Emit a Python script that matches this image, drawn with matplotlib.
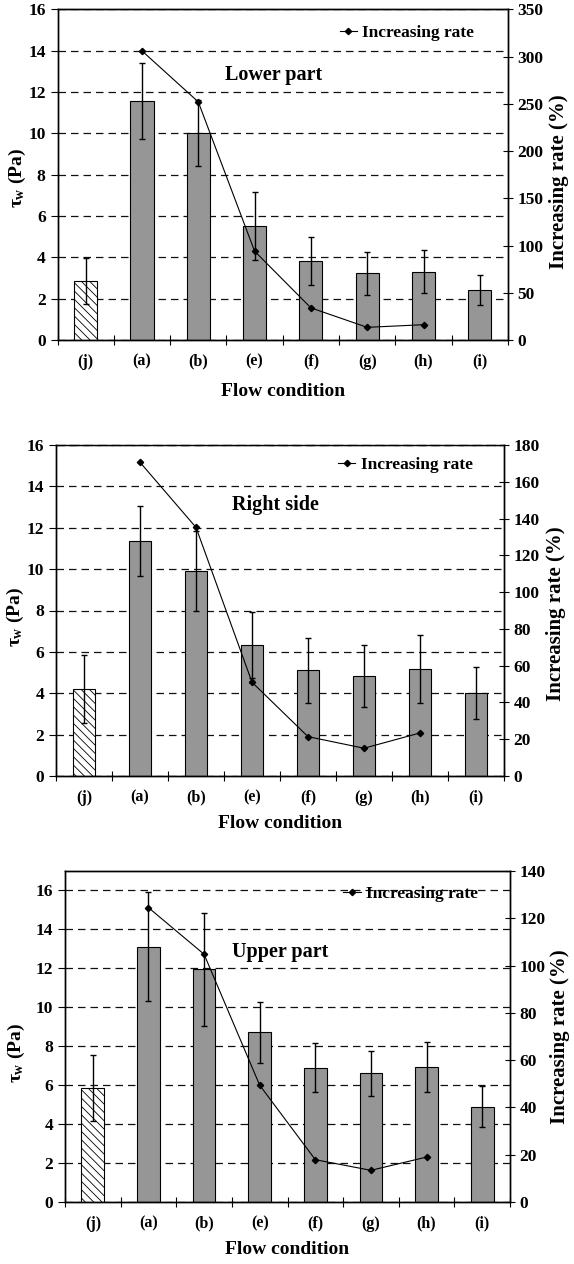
import matplotlib
matplotlib.use("Agg")
import matplotlib.pyplot as plt
import numpy as np
from matplotlib.lines import Line2D

plt.rcParams['font.family'] = ['Liberation Serif', 'DejaVu Serif']
plt.rcParams['font.weight'] = 'bold'
plt.rcParams['mathtext.fontset'] = 'custom'
plt.rcParams['mathtext.rm'] = 'Liberation Serif:bold'
plt.rcParams['mathtext.it'] = 'Liberation Serif'
plt.rcParams['hatch.linewidth'] = 0.6

# flow conditions (x axis)
conditions = ['(j)', '(a)', '(b)', '(e)', '(f)', '(g)', '(h)', '(i)']
rate_conditions = ['(a)', '(b)', '(e)', '(f)', '(g)', '(h)']

# lower part
lower_tau = [2.85, 11.56, 10.03, 5.53, 3.82, 3.24, 3.31, 2.42]
lower_err = [1.10, 1.83, 1.60, 1.64, 1.16, 1.04, 1.05, 0.71]
lower_rate = [306, 252, 94, 34, 13.4, 16.2]

# right side
right_tau = [4.19, 11.35, 9.89, 6.34, 5.10, 4.82, 5.18, 4.00]
right_err = [1.65, 1.68, 1.93, 1.60, 1.55, 1.50, 1.65, 1.26]
right_rate = [170.6, 135.2, 51, 21.4, 15.1, 23.4]

# upper part
upper_tau = [5.84, 13.12, 11.95, 8.72, 6.90, 6.61, 6.93, 4.89]
upper_err = [1.69, 2.80, 2.90, 1.56, 1.25, 1.16, 1.30, 1.05]
upper_rate = [124.5, 104.8, 49.4, 17.9, 13.4, 19.0]

W, H = 574, 1264
fig = plt.figure(figsize=(W / 100, H / 100), dpi=100)


def px_rect(left, right, top, bottom):
    return [left / W, 1 - bottom / H, (right - left) / W, (bottom - top) / H]


def draw_panel(rect, tau, err, rate, title, ytop, rmax, rstep, title_xy, leg_xy,
               ylab_xy, rlab_xy, xlab_y, dashed_top=False):
    ax = fig.add_axes(rect)
    x = np.arange(len(conditions))
    colors = ['white'] + ['#969696'] * (len(conditions) - 1)
    bars = ax.bar(x, tau, width=0.41, color=colors, edgecolor='black',
                  linewidth=0.8, zorder=2)
    bars[0].set_hatch('\\\\\\\\')
    ax.errorbar(x, tau, yerr=err, fmt='none', ecolor='black', elinewidth=1.0,
                capsize=2.5, capthick=1.0, zorder=3)
    ax.set_xlim(-0.5, len(conditions) - 0.5)
    ax.set_ylim(0, ytop)
    ax.set_yticks(np.arange(0, 17, 2))
    ax.set_xticks(x)
    ax.set_xticklabels(conditions, fontsize=11.5, fontweight='bold')
    ax.set_xticks(np.arange(-0.5, len(conditions)), minor=True)
    ax.tick_params(axis='x', which='major', length=0, pad=10)
    ax.tick_params(axis='x', which='minor', direction='inout', length=7, width=0.8)
    ax.tick_params(axis='y', direction='out', length=5, width=0.8, labelsize=12.5)
    for lab in ax.get_yticklabels():
        lab.set_fontweight('bold')
    ax.set_axisbelow(True)
    ax.yaxis.grid(True, color='#111111', linewidth=0.9, linestyle=(0, (6, 4)))
    for s in ax.spines.values():
        s.set_linewidth(1.0)
    if dashed_top:
        ax.spines['top'].set_linestyle((0, (6, 4)))
        ax.spines['top'].set_color('#444444')

    ax2 = ax.twinx()
    ax2.plot(x[1:7], rate, color='black', linewidth=0.8, marker='D', markersize=3.2)
    ax2.set_ylim(0, rmax)
    ax2.set_yticks(np.arange(0, rmax + 1, rstep))
    ax2.tick_params(axis='y', direction='inout', length=7, width=0.8, labelsize=12.5)
    for lab in ax2.get_yticklabels():
        lab.set_fontweight('bold')
    for s in ax2.spines.values():
        s.set_linewidth(1.0)

    ax.text(title_xy[0], title_xy[1], title, transform=ax.transAxes, ha='center',
            va='center', fontsize=14.5, fontweight='bold')
    handle = Line2D([], [], color='black', linewidth=0.8, marker='D', markersize=3.2)
    ax2.legend([handle], ['Increasing rate'], loc='center right',
               bbox_to_anchor=leg_xy, frameon=False, handlelength=1.0,
               handletextpad=0.3, borderpad=0, borderaxespad=0,
               prop={'size': 12.5, 'weight': 'bold'})
    ax.text(ylab_xy[0], ylab_xy[1], r'$\tau_\mathregular{w}$ (Pa)', transform=ax.transAxes,
            rotation=90, ha='center', va='center', fontsize=14, fontweight='bold')
    ax.text(rlab_xy[0], rlab_xy[1], 'Increasing rate (%)', transform=ax.transAxes,
            rotation=90, ha='center', va='center', fontsize=15, fontweight='bold')
    ax.text(0.5, xlab_y, 'Flow condition', transform=ax.transAxes, ha='center',
            va='center', fontsize=14, fontweight='bold')
    return ax


draw_panel(px_rect(57.5, 508, 9.3, 340), lower_tau, lower_err, lower_rate,
           'Lower part', 16, 350, 50, (0.48, 0.80), (0.925, 0.928),
           (-0.09, 0.49), (1.113, 0.48), -0.157)
draw_panel(px_rect(56, 504, 445, 776), right_tau, right_err, right_rate,
           'Right side', 16, 180, 20, (0.49, 0.82), (0.93, 0.94),
           (-0.09, 0.48), (1.117, 0.49), -0.145, dashed_top=True)
draw_panel(px_rect(65, 510, 871, 1202), upper_tau, upper_err, upper_rate,
           'Upper part', 17, 140, 20, (0.483, 0.756), (0.928, 0.93),
           (-0.109, 0.45), (1.112, 0.5), -0.145)

fig.savefig('out.png', dpi=100)
